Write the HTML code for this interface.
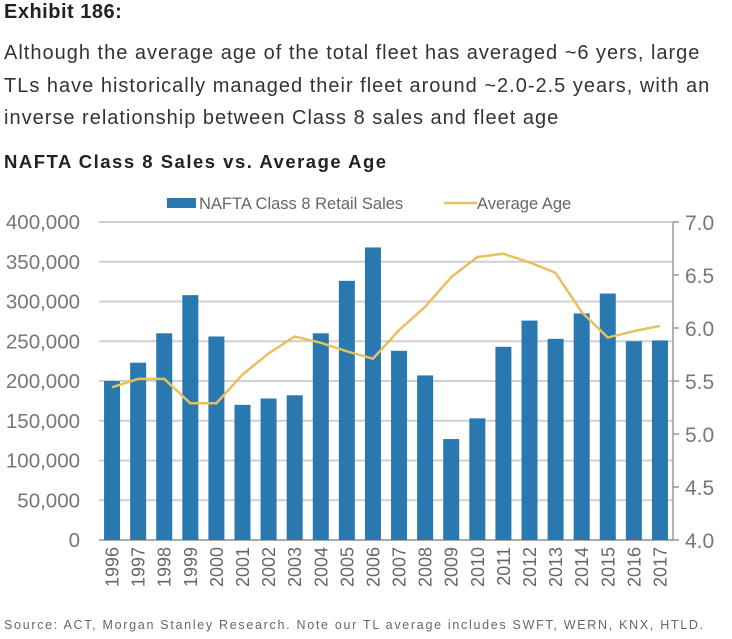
<!DOCTYPE html>
<html><head><meta charset="utf-8"><style>
body{margin:0;width:732px;height:639px;background:#fff;font-family:"Liberation Sans",sans-serif;overflow:hidden;position:relative}
.t{position:absolute;left:4px;white-space:nowrap}
</style></head><body>
<div class="t" style="top:1px;font-size:20px;font-weight:bold;color:#222;letter-spacing:0.5px">Exhibit 186:</div>
<div class="t" style="top:37px;font-size:20px;line-height:32.5px;color:#333;letter-spacing:1.0px">Although the average age of the total fleet has averaged ~6 yers, large<br>TLs have historically managed their fleet around ~2.0-2.5 years, with an<br>inverse relationship between Class 8 sales and fleet age</div>
<div class="t" style="top:151px;font-size:18.5px;font-weight:bold;color:#222;letter-spacing:1.5px">NAFTA Class 8 Sales vs. Average Age</div>
<svg id="c" width="732" height="639" style="position:absolute;left:0;top:0"></svg>
<div class="t" style="top:618px;font-size:12.5px;color:#666;letter-spacing:1.7px">Source: ACT, Morgan Stanley Research. Note our TL average includes SWFT, WERN, KNX, HTLD.</div>
<script>
const years=["1996","1997","1998","1999","2000","2001","2002","2003","2004","2005","2006","2007","2008","2009","2010","2011","2012","2013","2014","2015","2016","2017"];
const sales=[200000,223000,260000,308000,256000,170000,178000,182000,260000,326000,368000,238000,207000,127000,153000,243000,276000,253000,285000,310000,250000,251000];
const ages=[5.44,5.52,5.52,5.29,5.29,5.56,5.76,5.92,5.86,5.78,5.71,5.98,6.20,6.48,6.67,6.70,6.62,6.52,6.15,5.91,5.97,6.02];
const leftTicks=[0,50000,100000,150000,200000,250000,300000,350000,400000];
const rightTicks=[4.0,4.5,5.0,5.5,6.0,6.5,7.0];
const NS="http://www.w3.org/2000/svg",svg=document.getElementById('c');
const X0=99,X1=673,Y0=540,Y1=222,slot=(X1-X0)/years.length;
const yL=v=>Y0-(v/400000)*(Y0-Y1);
const yR=v=>Y0-((v-4)/3)*(Y0-Y1);
const xc=i=>X0+slot*(i+0.5);
function mk(t,a,p){const e=document.createElementNS(NS,t);for(const k in a)e.setAttribute(k,a[k]);(p||svg).appendChild(e);return e;}
leftTicks.forEach(v=>{
 const g=mk('line',{x1:X0,x2:X1,y1:yL(v),y2:yL(v),stroke:v?'#d0d0d0':'#aaa','stroke-width':2});
 
 
 const t=mk('text',{x:80,y:yL(v)+7,'text-anchor':'end','font-size':20.5,fill:'#777'});
 t.textContent=v.toLocaleString('en-US');
 
 
});
mk('line',{x1:X1,x2:X1,y1:Y1,y2:Y0,stroke:'#999','stroke-width':1.5});
rightTicks.forEach(v=>{
 mk('line',{x1:X1,x2:X1+6,y1:yR(v),y2:yR(v),stroke:'#999','stroke-width':1.5});
 const t=mk('text',{x:685,y:yR(v)+8,'font-size':21,fill:'#777'});
 t.textContent=v.toFixed(1);
 
 
});
sales.forEach((v,i)=>{
 const r=mk('rect',{x:xc(i)-8,y:yL(v),width:16,height:Y0-yL(v),fill:'#2a78b0'});
 
 
 const t=mk('text',{transform:`translate(${xc(i)+6.5},${Y0+7}) rotate(-90)`,'text-anchor':'end','font-size':18,fill:'#666'});
 t.textContent=years[i];
 
 
});
const pl=mk('polyline',{points:ages.map((v,i)=>xc(i)+','+yR(v)).join(' '),fill:'none',stroke:'#e5c15f','stroke-width':2.5});


const lr=mk('rect',{x:167,y:198,width:29,height:10,fill:'#2a78b0'});


const lt=mk('text',{x:199,y:209,'font-size':16.5,fill:'#666'});lt.textContent='NAFTA Class 8 Retail Sales';


const ll=mk('line',{x1:444,x2:477,y1:203,y2:203,stroke:'#e5c15f','stroke-width':2.5});


const lt2=mk('text',{x:477,y:209,'font-size':16.5,fill:'#666'});lt2.textContent='Average Age';


</script>
</body></html>
